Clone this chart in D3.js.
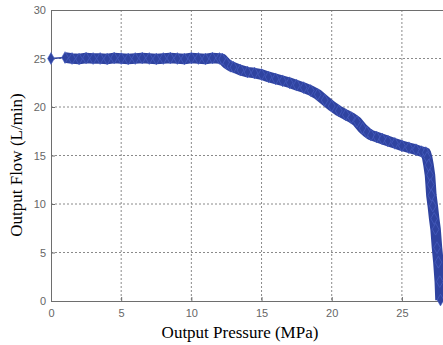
<!DOCTYPE html>
<html><head><meta charset="utf-8">
<script src="https://cdn.jsdelivr.net/npm/d3@7"></script>
<style>body{margin:0;background:#fff}svg{display:block}</style>
</head><body>
<svg id="c" width="443" height="345"></svg>
<script>
const xTicks=[0,5,10,15,20,25];
const yTicks=[0,5,10,15,20,25,30];
const pressure=[0,1.0,1.5,2.0,2.5,3.0,3.5,4.0,4.5,5.0,5.5,6.0,6.5,7.0,7.5,8.0,8.5,9.0,9.5,10.0,10.5,11.0,11.5,12.0,12.2,12.5,12.8,13.0,13.5,14.0,14.5,15.0,15.5,16.0,16.5,17.0,17.5,18.0,18.5,19.0,19.5,20.0,20.5,21.0,21.4,21.8,22.2,22.5,22.8,23.2,23.6,24.0,24.5,25.0,25.5,26.0,26.4,26.7,26.8,26.9,27.0,27.05,27.1,27.2,27.3,27.4,27.5,27.6,27.7,27.75];
const flow=[25.0,25.1,25.0,24.95,25.05,25.0,25.0,24.95,25.05,25.0,24.95,25.0,25.05,25.0,24.95,25.0,25.05,25.0,24.95,25.05,25.0,24.95,25.05,25.0,24.95,24.5,24.2,24.1,23.8,23.6,23.5,23.35,23.1,22.9,22.7,22.5,22.25,22.0,21.7,21.3,20.7,20.1,19.6,19.2,18.9,18.5,17.8,17.4,17.1,16.9,16.7,16.5,16.25,16.0,15.8,15.6,15.4,15.3,14.8,14.0,13.0,12.0,10.9,9.8,8.5,7.4,5.5,4.0,2.0,0.1];
const data=pressure.map((p,i)=>({x:p,y:flow[i]}));

const svg=d3.select("#c");
const mL=51,mT=10,mR=444,mB=301;
const x=d3.scaleLinear().domain([0,28]).range([mL,mR]);
const y=d3.scaleLinear().domain([0,30]).range([mB,mT]);
const axisColor="#6e6e6e";
const g=svg.append("g");
g.selectAll("line.gx").data(xTicks.filter(d=>d>0)).join("line")
 .attr("x1",d=>x(d)).attr("x2",d=>x(d)).attr("y1",mT).attr("y2",mB)
 .attr("stroke","#8a8a8a").attr("stroke-width",1).attr("stroke-dasharray","2,2");
g.selectAll("line.gy").data(yTicks.filter(d=>d>0&&d<30)).join("line")
 .attr("y1",d=>y(d)).attr("y2",d=>y(d)).attr("x1",mL).attr("x2",mR)
 .attr("stroke","#8a8a8a").attr("stroke-width",1).attr("stroke-dasharray","2,2");
const xa=svg.append("g").attr("transform",`translate(0,${mB})`)
 .call(d3.axisBottom(x).tickValues(xTicks).tickSizeInner(-4).tickSizeOuter(0).tickPadding(8));
const ya=svg.append("g").attr("transform",`translate(${mL},0)`)
 .call(d3.axisLeft(y).tickValues(yTicks).tickSizeInner(-4).tickSizeOuter(0).tickPadding(5));
[xa,ya].forEach(a=>{
 a.select(".domain").attr("stroke",axisColor);
 a.selectAll(".tick line").attr("stroke",axisColor);
 a.selectAll("text").attr("fill","#666").attr("font-family","Liberation Sans, Arial, sans-serif").attr("font-size","11px");
});
svg.append("line").attr("x1",mL).attr("x2",mR).attr("y1",mT+0.5).attr("y2",mT+0.5).attr("stroke",axisColor);
const blue="#2f43a0";
svg.append("clipPath").attr("id","pc").append("rect").attr("x",mL-6).attr("y",mT).attr("width",mR-mL+6).attr("height",mB-mT+6);
const s=svg.append("g").attr("clip-path","url(#pc)");
s.append("path").datum(data.slice(1)).attr("fill","none").attr("stroke",blue).attr("stroke-width",10.5).attr("stroke-linejoin","round")
 .attr("d",d3.line().x(d=>x(d.x)).y(d=>y(d.y)));
s.append("path").datum(data.slice(0,2)).attr("fill","none").attr("stroke",blue).attr("stroke-width",1.5)
 .attr("d",d3.line().x(d=>x(d.x)).y(d=>y(d.y)));
const sym=d3.symbol().type(d3.symbolDiamond).size(40);
s.selectAll("path.m").data(data).join("path").attr("class","m")
 .attr("transform",d=>`translate(${x(d.x)},${y(d.y)})`).attr("d",sym)
 .attr("fill",blue).attr("stroke","#4d63c4").attr("stroke-width",0.6);
svg.append("text").attr("x",240).attr("y",338).attr("text-anchor","middle")
 .attr("font-family","Liberation Serif, Times New Roman, serif").attr("font-size","17px").attr("fill","#000").text("Output Pressure (MPa)");
svg.append("text").attr("transform",`translate(22,165) rotate(-90)`).attr("text-anchor","middle")
 .attr("font-family","Liberation Serif, Times New Roman, serif").attr("font-size","17px").attr("fill","#000").text("Output Flow (L/min)");
</script>
</body></html>
